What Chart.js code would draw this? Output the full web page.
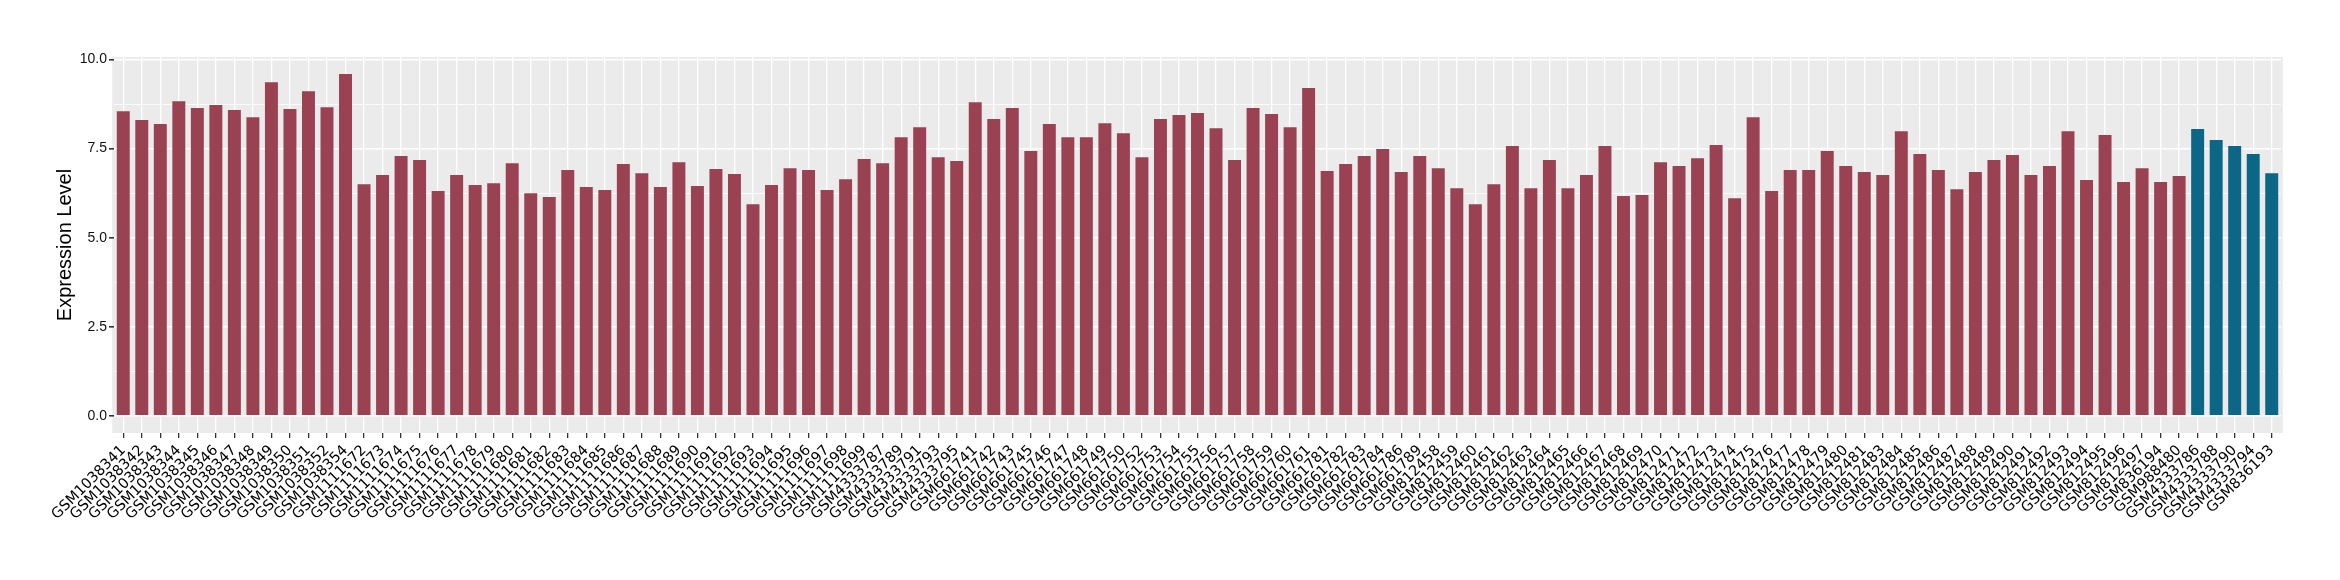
<!DOCTYPE html>
<html>
<head>
<meta charset="utf-8">
<script src="https://cdn.jsdelivr.net/npm/chart.js@4.4.1/dist/chart.umd.min.js"></script>
<style>
  body { margin: 0; background: #fff; }
  #wrap { width: 2340px; height: 580px; }
</style>
</head>
<body>
<div id="wrap"><canvas id="myChart" width="2340" height="580"></canvas></div>
<script>
// group 1 (red bars)
var redSamples = [
  'GSM1038341','GSM1038342','GSM1038343','GSM1038344','GSM1038345','GSM1038346','GSM1038347',
  'GSM1038348','GSM1038349','GSM1038350','GSM1038351','GSM1038352','GSM1038354',
  'GSM1111672','GSM1111673','GSM1111674','GSM1111675','GSM1111676','GSM1111677','GSM1111678',
  'GSM1111679','GSM1111680','GSM1111681','GSM1111682','GSM1111683','GSM1111684','GSM1111685',
  'GSM1111686','GSM1111687','GSM1111688','GSM1111689','GSM1111690','GSM1111691','GSM1111692',
  'GSM1111693','GSM1111694','GSM1111695','GSM1111696','GSM1111697','GSM1111698','GSM1111699',
  'GSM4333787','GSM4333789','GSM4333791','GSM4333793','GSM4333795',
  'GSM661741','GSM661742','GSM661743','GSM661745','GSM661746','GSM661747','GSM661748',
  'GSM661749','GSM661750','GSM661752','GSM661753','GSM661754','GSM661755','GSM661756',
  'GSM661757','GSM661758','GSM661759','GSM661760','GSM661761','GSM661781','GSM661782',
  'GSM661783','GSM661784','GSM661786','GSM661789',
  'GSM812458','GSM812459','GSM812460','GSM812461','GSM812462','GSM812463','GSM812464',
  'GSM812465','GSM812466','GSM812467','GSM812468','GSM812469','GSM812470','GSM812471',
  'GSM812472','GSM812473','GSM812474','GSM812475','GSM812476','GSM812477','GSM812478',
  'GSM812479','GSM812480','GSM812481','GSM812483','GSM812484','GSM812485','GSM812486',
  'GSM812487','GSM812488','GSM812489','GSM812490','GSM812491','GSM812492','GSM812493',
  'GSM812494','GSM812495','GSM812496','GSM812497','GSM836194','GSM988480'
];
var redValues = [
  8.55, 8.30, 8.19, 8.83, 8.64, 8.72, 8.58,
  8.38, 9.36, 8.61, 9.11, 8.66, 9.59,
  6.50, 6.76, 7.29, 7.18, 6.31, 6.76, 6.48,
  6.53, 7.09, 6.25, 6.14, 6.90, 6.42, 6.34,
  7.07, 6.81, 6.42, 7.12, 6.45, 6.93, 6.79,
  5.94, 6.48, 6.95, 6.90, 6.34, 6.64, 7.21,
  7.09, 7.82, 8.10, 7.26, 7.15,
  8.80, 8.33, 8.64, 7.43, 8.19, 7.82, 7.82,
  8.21, 7.93, 7.26, 8.33, 8.44, 8.50, 8.07,
  7.18, 8.64, 8.47, 8.10, 9.20, 6.87, 7.07,
  7.29, 7.49, 6.84, 7.29,
  6.95, 6.39, 5.94, 6.50, 7.57, 6.39, 7.18,
  6.39, 6.76, 7.57, 6.17, 6.20, 7.12, 7.01,
  7.23, 7.60, 6.11, 8.38, 6.31, 6.90, 6.90,
  7.43, 7.01, 6.84, 6.76, 7.99, 7.35, 6.90,
  6.36, 6.84, 7.18, 7.32, 6.76, 7.01, 7.99,
  6.62, 7.88, 6.56, 6.95, 6.56, 6.73
];

// group 2 (blue bars)
var blueSamples = ['GSM4333786','GSM4333788','GSM4333790','GSM4333794','GSM836193'];
var blueValues = [8.05, 7.74, 7.57, 7.35, 6.81];

var yTicks = [0, 1.25, 2.5, 3.75, 5, 6.25, 7.5, 8.75, 10];

var RED = '#9B4252';
var BLUE = '#0C6786';

var labels = redSamples.concat(blueSamples);
var values = redValues.concat(blueValues);
var colors = redSamples.map(function () { return RED; })
  .concat(blueSamples.map(function () { return BLUE; }));

function isMajor(v) { return Math.abs(v / 2.5 - Math.round(v / 2.5)) < 1e-6; }

// grey ggplot-like panel behind the bars
var panelBg = {
  id: 'panelBg',
  beforeDraw: function (chart) {
    var a = chart.chartArea;
    var x = chart.scales.x;
    var ext = 0.1 * (a.right - a.left) / x.ticks.length;
    var c = chart.ctx;
    c.save();
    c.fillStyle = '#EBEBEB';
    c.fillRect(a.left - ext, a.top, a.right - a.left + 2 * ext, a.bottom - a.top);
    c.restore();
  }
};

var ctx = document.getElementById('myChart').getContext('2d');
var myChart = new Chart(ctx, {
  type: 'bar',
  data: {
    labels: labels,
    datasets: [{
      data: values,
      backgroundColor: colors,
      barPercentage: 0.7,
      categoryPercentage: 1.0
    }]
  },
  plugins: [panelBg],
  options: {
    responsive: false,
    animation: false,
    layout: { padding: { top: 57, right: 59, left: 0, bottom: 0 } },
    plugins: { legend: { display: false }, tooltip: { enabled: false } },
    scales: {
      x: {
        afterFit: function (s) { s.height = 147; },
        border: { display: false },
        grid: {
          offset: false,
          color: '#FFFFFF',
          lineWidth: 1.3,
          tickColor: '#333333',
          tickLength: 5
        },
        ticks: {
          autoSkip: false,
          maxRotation: 45,
          minRotation: 45,
          padding: 4,
          color: '#000000',
          font: { family: 'DejaVu Sans', size: 14.5 }
        }
      },
      y: {
        min: -0.48,
        max: 10.07,
        afterFit: function (s) { s.width = 114; },
        afterBuildTicks: function (s) {
          s.ticks = yTicks.map(function (v) { return { value: v }; });
        },
        border: { display: false },
        grid: {
          color: '#FFFFFF',
          lineWidth: function (c) { return isMajor(c.tick.value) ? 1.6 : 0.8; },
          tickColor: function (c) { return isMajor(c.tick.value) ? '#333333' : 'rgba(0,0,0,0)'; },
          tickLength: 5
        },
        ticks: {
          padding: 2,
          color: '#111111',
          font: { family: 'Liberation Sans', size: 14 },
          callback: function (v) { return isMajor(v) ? v.toFixed(1) : ''; }
        },
        title: {
          display: true,
          text: 'Expression Level',
          color: '#000000',
          font: { family: 'Liberation Sans', size: 20 },
          padding: { top: 53, bottom: 0 }
        }
      }
    }
  }
});
</script>
</body>
</html>
